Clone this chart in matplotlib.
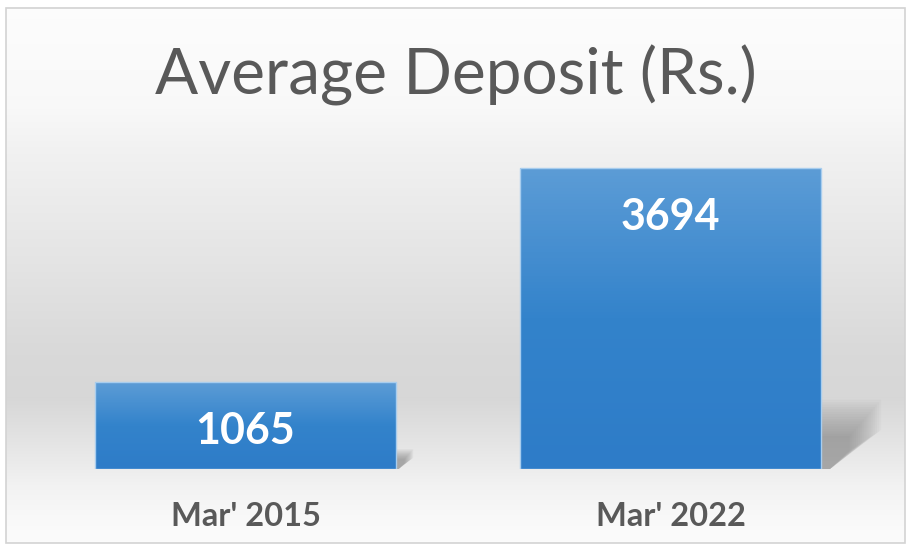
import numpy as np
import matplotlib.pyplot as plt
from matplotlib.patches import Polygon, Rectangle
from matplotlib.colors import LinearSegmentedColormap
import matplotlib.transforms as mtransforms

categories = ["Mar' 2015", "Mar' 2022"]
values = [1065, 3694]
title = "Average Deposit (Rs.)"

W, H = 911, 549
fig = plt.figure(figsize=(W / 100, H / 100), dpi=100)
fig.patch.set_facecolor("white")

# chart background: vertical grey gradient (Excel style)
bg = fig.add_axes([0, 0, 1, 1])
bg.set_xlim(0, W)
bg.set_ylim(H, 0)
bg.axis("off")
stops_y = [0, 100, 150, 250, 350, 400, 450, 490, 530, 549]
stops_g = [0.99, 0.975, 0.945, 0.90, 0.852, 0.843, 0.90, 0.95, 0.98, 0.985]
yy = np.arange(H)
grey = np.interp(yy, stops_y, stops_g)
img = np.repeat(grey[:, None], 2, axis=1)
bg.imshow(np.dstack([img, img, img]), extent=(6, 905, 543, 7), aspect="auto", zorder=0)
bg.add_patch(Rectangle((5.5, 7.5), 899, 535, fill=False, edgecolor="#d3d3d3", lw=1.2, zorder=1))

fig.text(456 / W, 1 - 95 / H, title, ha="center", va="baseline",
         fontsize=46, color="#595959", family="Lato")

# plot area
ax = fig.add_axes([33 / W, 1 - 469 / H, 850 / W, 326 / H])
ax.set_xlim(-0.5, 1.5)
ax.set_ylim(0, 4000)
ax.axis("off")

px_x = 1 / 425.0
px_y = 4000 / 326.0
width = 0.708
x = np.arange(len(categories))

bar_cmap = LinearSegmentedColormap.from_list("bluegrad", ["#5c9cd6", "#3383cb", "#2e7cc8"])
bars = ax.bar(x, values, width=width, color="none", edgecolor="#a8cdee", lw=1.0, zorder=3)

for b, v in zip(bars, values):
    x0 = b.get_x()
    x1 = x0 + b.get_width()
    h = b.get_height()
    hpx = h / px_y
    # soft shadow behind the right side
    top = 0.23 * h
    mid = 0.13 * h
    dx = 0.2 * hpx * px_x
    n = 16
    for k in range(n):
        s = 1 - k * 0.035
        poly = Polygon([(x1, 0), (x1, top * s), (x1 + dx * s, top * s),
                        (x1 + dx * s, mid * s), (x1 + dx * 0.15, 0)],
                       closed=True, facecolor="#6e6e6e", edgecolor="none",
                       alpha=0.045, zorder=2)
        ax.add_patch(poly)
    grad = np.linspace(0, 1, 100)[:, None]
    im = ax.imshow(grad, cmap=bar_cmap, extent=(x0, x1, 0, h), aspect="auto",
                   origin="upper", zorder=2.5)
    im.set_clip_path(b)
    ax.annotate(str(v), (b.get_x() + b.get_width() / 2, h), xytext=(0, -62 * 0.72),
                textcoords="offset points", ha="center", va="baseline",
                fontsize=31, fontweight="bold", color="white", family="Lato", zorder=4)

trans = mtransforms.blended_transform_factory(ax.transData, ax.transAxes)
for xi, c in zip(x, categories):
    ax.text(xi, -(526 - 469) / 326, c, transform=trans, ha="center", va="baseline",
            fontsize=23.5, fontweight="bold", color="#595959", family="Lato")

ax.set_xlim(-0.5, 1.5)
ax.set_ylim(0, 4000)

fig.savefig("out.png", dpi=100)
